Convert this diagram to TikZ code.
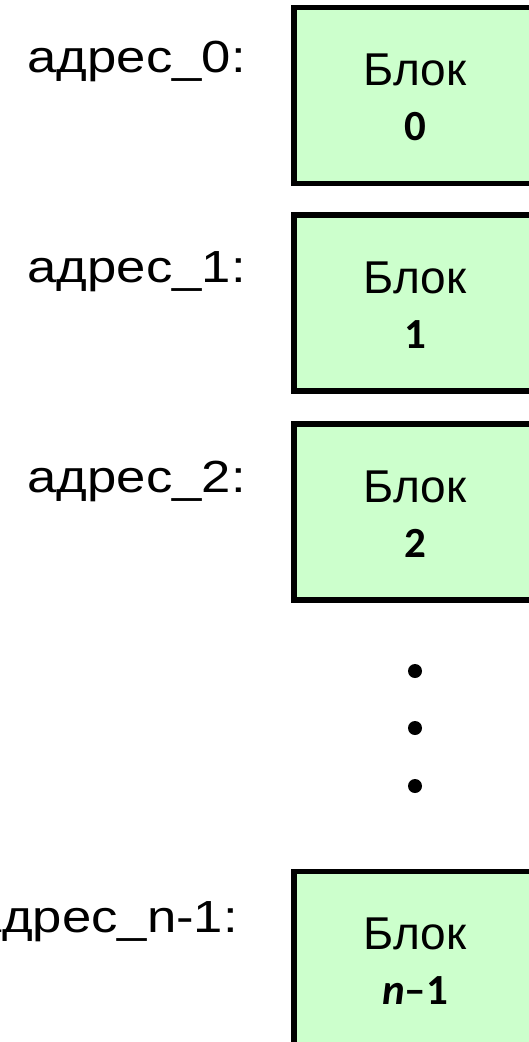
\documentclass[tikz,border=0pt]{standalone}
\usepackage{fontspec}
\setmainfont{Liberation Sans}
\newfontfamily\calfont{Carlito}
\definecolor{blockgreen}{HTML}{CCFFCC}
\newcommand{\widetext}[1]{\scalebox{1.17}[1]{#1}}
\begin{document}
\begin{tikzpicture}[x=1pt,y=-1pt,
  block/.style={draw=black,fill=blockgreen,line width=5.5pt,minimum width=244pt,minimum height=176pt,inner sep=0pt,outer sep=0pt},
  addr/.style={anchor=base east,inner sep=0pt,font=\fontsize{45}{54}\selectfont},
  word/.style={anchor=base,inner sep=0pt,font=\fontsize{46}{55}\selectfont},
  num/.style={anchor=base,inner sep=0pt,font=\calfont\bfseries\fontsize{43}{52}\selectfont},
  bullet/.style={circle,fill=black,minimum size=14pt,inner sep=0pt}]
\useasboundingbox (0,0) rectangle (529,1042);
\clip (0,0) rectangle (529,1042);
% blocks
\node[block] (b0) at (416,95.5) {};
\node[block] (b1) at (416,303) {};
\node[block] (b2) at (416,512) {};
\node[block] (b3) at (416,959.5) {};
% block texts
\node[word] (w0) at (415,85.5) {Блок};
\node[num] (n0) at (415,140.5) {0};
\node[word] (w1) at (415,293) {Блок};
\node[num] (n1) at (415,348) {1};
\node[word] (w2) at (415,502) {Блок};
\node[num] (n2) at (415,557) {2};
\node[word] (w3) at (415,949.5) {Блок};
\node[num] (n3) at (415,1004.5) {\textit{n}–1};
% address labels
\node[addr] (a0) at (246,72) {\widetext{адрес\_0:}};
\node[addr] (a1) at (246,282) {\widetext{адрес\_1:}};
\node[addr] (a2) at (246,492) {\widetext{адрес\_2:}};
\node[addr] (a3) at (238,932) {\widetext{адрес\_n-1:}};
% dots
\node[bullet] (d1) at (415,671) {};
\node[bullet] (d2) at (415,728) {};
\node[bullet] (d3) at (415,786) {};
\end{tikzpicture}
\end{document}
